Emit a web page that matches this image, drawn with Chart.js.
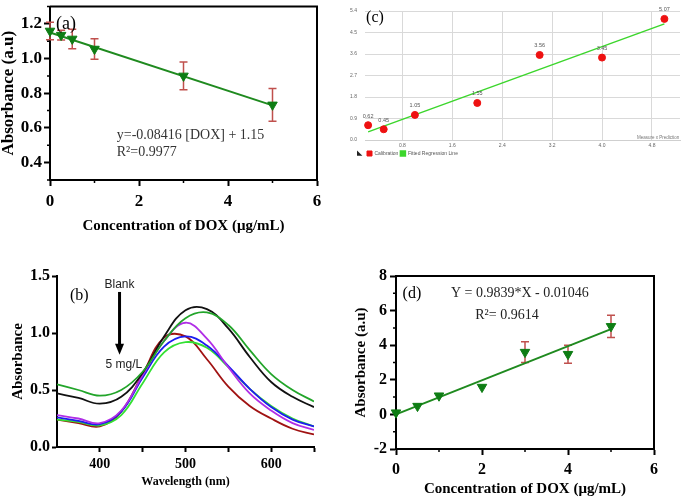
<!DOCTYPE html>
<html>
<head>
<meta charset="utf-8">
<script src="https://cdn.jsdelivr.net/npm/chart.js@4.4.1/dist/chart.umd.min.js"></script>
<style>
  html, body { margin: 0; padding: 0; background: #fff; }
  #fig { position: relative; width: 685px; height: 501px; overflow: hidden; }
  canvas { position: absolute; }
</style>
</head>
<body>
<div id="fig">
  <canvas id="chartA" style="left:0;top:0" width="340" height="245"></canvas>
  <canvas id="chartC" style="left:340px;top:0" width="345" height="166"></canvas>
  <canvas id="chartB" style="left:0;top:250px" width="340" height="251"></canvas>
  <canvas id="chartD" style="left:340px;top:250px" width="345" height="251"></canvas>
</div>
<script>
// (a) absorbance vs DOX concentration
const aConc = [0, 0.25, 0.5, 1, 3, 5];
const aAbs  = [1.159, 1.135, 1.113, 1.055, 0.90, 0.733];
const aErr  = [0.05, 0.028, 0.056, 0.059, 0.08, 0.094];
const aFitX = [0, 5];
const aFitY = [1.15, 0.73];
const aTicksX = [0, 2, 4, 6];
const aMinorX = [1, 3, 5];
const aTicksY = [0.4, 0.6, 0.8, 1.0, 1.2];
const aMinorY = [0.3, 0.5, 0.7, 0.9, 1.1, 1.3];

// (b) UV-vis spectra
const wavelengths = [350, 375, 400, 425, 450, 475, 500, 525, 550, 575, 600, 625, 650];
const specDarkGreen  = [0.55, 0.50, 0.45, 0.50, 0.66, 0.93, 1.13, 1.18, 1.07, 0.85, 0.64, 0.50, 0.40];
const specBlack      = [0.47, 0.43, 0.38, 0.44, 0.65, 0.97, 1.20, 1.21, 1.04, 0.79, 0.57, 0.44, 0.35];
const specPurple     = [0.28, 0.25, 0.21, 0.32, 0.63, 0.93, 1.09, 0.95, 0.70, 0.47, 0.32, 0.21, 0.15];
const specBlue       = [0.26, 0.23, 0.20, 0.31, 0.61, 0.88, 0.97, 0.89, 0.71, 0.51, 0.35, 0.24, 0.18];
const specLightGreen = [0.24, 0.22, 0.19, 0.28, 0.56, 0.83, 0.92, 0.87, 0.70, 0.51, 0.36, 0.25, 0.18];
const specDarkRed    = [0.24, 0.21, 0.18, 0.31, 0.64, 0.96, 0.97, 0.77, 0.53, 0.36, 0.25, 0.16, 0.11];
const bTicksX = [400, 450, 500, 550, 600, 650];
const bLabeledX = [400, 500, 600];
const bTicksY = [0, 0.5, 1.0, 1.5];

// (c) calibration vs fitted regression
const cConc = [0.25, 0.5, 1, 2, 3, 4, 5];
const cAbs  = [0.62, 0.45, 1.05, 1.55, 3.56, 3.45, 5.07];
const cFitX = [0.25, 5];
const cFitY = [0.34, 4.86];
const cTicksX = [0.8, 1.6, 2.4, 3.2, 4.0, 4.8];
const cTicksY = [0, 0.9, 1.8, 2.7, 3.6, 4.5, 5.4];

// (d) linear fit
const dConc = [0, 0.5, 1, 2, 3, 4, 5];
const dAbs  = [0.1, 0.48, 1.08, 1.58, 3.6, 3.48, 5.09];
const dErr  = [0, 0, 0, 0, 0.6, 0.52, 0.64];
const dFitX = [0, 5];
const dFitY = [0.0, 4.93];
const dTicksX = [0, 2, 4, 6];
const dMinorX = [1, 3, 5];
const dTicksY = [-2, 0, 2, 4, 6, 8];
const dMinorY = [-1, 1, 3, 5, 7];

const SERIF = '"Liberation Serif", "Times New Roman", serif';
const SANS = '"Liberation Sans", Arial, sans-serif';
Chart.defaults.font.family = SERIF;
Chart.defaults.color = '#000';
Chart.defaults.animation = false;

const pts = (xs, ys) => xs.map((x, i) => ({ x, y: ys[i] }));

const boxFrame = {
  id: 'boxFrame',
  afterDraw(chart, args, o) {
    if (!o.show) return;
    const { ctx, chartArea: a } = chart;
    ctx.save();
    ctx.strokeStyle = '#000';
    ctx.lineWidth = 2;
    ctx.beginPath();
    ctx.moveTo(a.left, a.top);
    ctx.lineTo(a.right, a.top);
    ctx.lineTo(a.right, a.bottom);
    ctx.stroke();
    ctx.restore();
  }
};

const minorTicks = {
  id: 'minorTicks',
  afterDraw(chart, args, o) {
    if (!o.x && !o.y) return;
    const { ctx, chartArea: a, scales } = chart;
    const len = o.len || 3;
    ctx.save();
    ctx.strokeStyle = '#000';
    ctx.lineWidth = 1.5;
    ctx.beginPath();
    (o.x || []).forEach(v => {
      const px = scales.x.getPixelForValue(v);
      ctx.moveTo(px, a.bottom); ctx.lineTo(px, a.bottom + len);
    });
    (o.y || []).forEach(v => {
      const py = scales.y.getPixelForValue(v);
      ctx.moveTo(a.left, py); ctx.lineTo(a.left - len, py);
    });
    ctx.stroke();
    ctx.restore();
  }
};

const errorBars = {
  id: 'errorBars',
  beforeDatasetsDraw(chart, args, o) {
    if (!o.err) return;
    const { ctx, scales: { y } } = chart;
    const vals = chart.data.datasets[0].data;
    ctx.save();
    ctx.strokeStyle = o.color;
    ctx.lineWidth = 1.5;
    chart.getDatasetMeta(0).data.forEach((pt, i) => {
      const e = o.err[i];
      if (!e) return;
      const top = y.getPixelForValue(vals[i].y + e);
      const bot = y.getPixelForValue(vals[i].y - e);
      ctx.beginPath();
      ctx.moveTo(pt.x, top); ctx.lineTo(pt.x, bot);
      ctx.moveTo(pt.x - o.cap, top); ctx.lineTo(pt.x + o.cap, top);
      ctx.moveTo(pt.x - o.cap, bot); ctx.lineTo(pt.x + o.cap, bot);
      ctx.stroke();
    });
    ctx.restore();
  }
};

const notes = {
  id: 'notes',
  afterDraw(chart, args, o) {
    if (!o.items) return;
    const { ctx, scales: { x, y } } = chart;
    ctx.save();
    o.items.forEach(n => {
      const px = x.getPixelForValue(n.x), py = y.getPixelForValue(n.y);
      if (n.arrowTo !== undefined) {
        const py2 = y.getPixelForValue(n.arrowTo);
        ctx.strokeStyle = '#000';
        ctx.fillStyle = '#000';
        ctx.lineWidth = 3;
        ctx.beginPath();
        ctx.moveTo(px, py); ctx.lineTo(px, py2 - 10);
        ctx.stroke();
        ctx.beginPath();
        ctx.moveTo(px - 4.5, py2 - 11); ctx.lineTo(px + 4.5, py2 - 11); ctx.lineTo(px, py2);
        ctx.closePath();
        ctx.fill();
        return;
      }
      ctx.font = n.font;
      ctx.fillStyle = n.color || '#000';
      ctx.textAlign = n.align || 'left';
      ctx.textBaseline = 'middle';
      ctx.fillText(n.text, px, py);
    });
    ctx.restore();
  }
};

const valueLabels = {
  id: 'valueLabels',
  afterDatasetsDraw(chart, args, o) {
    if (!o.show) return;
    const { ctx } = chart;
    const vals = chart.data.datasets[0].data;
    ctx.save();
    ctx.font = '5.5px ' + SANS;
    ctx.fillStyle = '#555';
    ctx.textAlign = 'center';
    ctx.textBaseline = 'middle';
    chart.getDatasetMeta(0).data.forEach((pt, i) => {
      ctx.fillText(vals[i].y.toFixed(2), pt.x, pt.y - 9);
    });
    ctx.restore();
  }
};

Chart.register(boxFrame, minorTicks, errorBars, notes, valueLabels);

function axisX(o) {
  return {
    type: 'linear', min: o.min, max: o.max,
    afterFit: s => { s.height = o.h; },
    afterBuildTicks: s => { s.ticks = o.ticks.map(v => ({ value: v })); },
    ticks: { font: { size: o.size, weight: 'bold' }, padding: o.pad, maxRotation: 0, autoSkip: false,
             callback: o.fmt || (v => String(v)) },
    grid: { drawOnChartArea: false, tickLength: o.tl || 6, tickWidth: 2, tickColor: '#000' },
    border: { display: true, color: '#000', width: 2 },
    title: { display: true, text: o.title, font: { size: o.tsize, weight: 'bold', lineHeight: 1 },
             padding: { top: 0, bottom: o.tpad } }
  };
}

function axisY(o) {
  return {
    type: 'linear', min: o.min, max: o.max,
    afterFit: s => { s.width = o.w; s.paddingTop = 0; s.paddingBottom = 0; },
    afterBuildTicks: s => { s.ticks = o.ticks.map(v => ({ value: v })); },
    ticks: { font: { size: o.size, weight: 'bold' }, padding: o.pad, autoSkip: false,
             callback: o.fmt || (v => String(v)) },
    grid: { drawOnChartArea: false, tickLength: o.tl || 6, tickWidth: 2, tickColor: '#000' },
    border: { display: true, color: '#000', width: 2 },
    title: { display: true, text: o.title, font: { size: o.tsize, weight: 'bold', lineHeight: 1 },
             padding: { top: o.tpad, bottom: 0 } }
  };
}

// panel (a)
new Chart(document.getElementById('chartA'), {
  type: 'scatter',
  data: {
    datasets: [
      { data: pts(aConc, aAbs), pointStyle: 'triangle', pointRotation: 180, pointRadius: 5.5,
        backgroundColor: '#0e7d14', borderColor: '#0e7d14', clip: false },
      { data: pts(aFitX, aFitY), showLine: true, pointRadius: 0, borderColor: '#1f8a1f', borderWidth: 2, clip: false }
    ]
  },
  options: {
    responsive: false, events: [],
    layout: { padding: { top: 2, right: 23, left: 0, bottom: 0 } },
    plugins: {
      legend: { display: false }, tooltip: { enabled: false },
      boxFrame: { show: true },
      minorTicks: { x: aMinorX, y: aMinorY, len: 3 },
      errorBars: { err: aErr, color: '#c0504d', cap: 4 },
      notes: { items: [
        { text: '(a)', x: 0.36, y: 1.2, font: '18px ' + SERIF, align: 'center' },
        { text: 'y=-0.08416 [DOX] + 1.15', x: 1.5, y: 0.556, font: '14px ' + SERIF, color: '#333' },
        { text: 'R\u00b2=0.9977', x: 1.5, y: 0.457, font: '14px ' + SERIF, color: '#333' }
      ] }
    },
    scales: {
      x: axisX({ min: 0, max: 6, h: 65, ticks: aTicksX, size: 17, pad: 5,
                 title: 'Concentration of DOX (\u03bcg/mL)', tsize: 15, tpad: 11 }),
      y: axisY({ min: 0.3, max: 1.3, w: 50, ticks: aTicksY, size: 17, pad: 2, fmt: v => v.toFixed(1),
                 title: 'Absorbance (a.u)', tsize: 17, tpad: 0 })
    }
  }
});

// panel (b)
const specSeries = [
  [specDarkGreen, '#22a52a'], [specBlack, '#111111'], [specPurple, '#b02ee6'],
  [specBlue, '#1c1cf0'], [specLightGreen, '#33e033'], [specDarkRed, '#a01212']
];
new Chart(document.getElementById('chartB'), {
  type: 'scatter',
  data: {
    datasets: specSeries.map(([ys, c]) => ({
      data: pts(wavelengths, ys), showLine: true, pointRadius: 0, borderColor: c, borderWidth: 1.8, tension: 0.4
    }))
  },
  options: {
    responsive: false, events: [],
    layout: { padding: { top: 26, right: 26, left: 0, bottom: 0 } },
    plugins: {
      legend: { display: false }, tooltip: { enabled: false },
      notes: { items: [
        { text: '(b)', x: 376, y: 1.33, font: '16px ' + SERIF, align: 'center' },
        { text: 'Blank', x: 423, y: 1.42, font: '12px ' + SANS, align: 'center', color: '#222' },
        { x: 423, y: 1.36, arrowTo: 0.81 },
        { text: '5 mg/L', x: 428, y: 0.72, font: '12px ' + SANS, align: 'center', color: '#222' }
      ] }
    },
    scales: {
      x: axisX({ min: 350, max: 650, h: 54, ticks: bTicksX, size: 14, pad: 4, tl: 5,
                 fmt: v => bLabeledX.includes(v) ? String(v) : '',
                 title: 'Wavelength (nm)', tsize: 12, tpad: 13 }),
      y: axisY({ min: 0, max: 1.5, w: 57, ticks: bTicksY, size: 16, pad: 2, tl: 5, fmt: v => v.toFixed(1),
                 title: 'Absorbance', tsize: 15, tpad: 11 })
    }
  }
});

// panel (c)
new Chart(document.getElementById('chartC'), {
  type: 'scatter',
  data: {
    datasets: [
      { label: 'Calibration', data: pts(cConc, cAbs), pointRadius: 3.5,
        backgroundColor: '#ee1111', borderColor: '#ee1111', clip: false },
      { label: 'Fitted Regression Line', data: pts(cFitX, cFitY), showLine: true, pointRadius: 0,
        backgroundColor: '#3cd62c', borderColor: '#3cd62c', borderWidth: 1.5 }
    ]
  },
  options: {
    responsive: false, events: [],
    layout: { padding: { top: 10, right: 3, left: 0, bottom: 0 } },
    plugins: {
      tooltip: { enabled: false },
      legend: { position: 'bottom', align: 'start', fullSize: false,
                labels: { boxWidth: 5, boxHeight: 5, padding: 2, color: '#555', font: { size: 5, family: SANS } } },
      valueLabels: { show: true },
      notes: { items: [
        { text: '(c)', x: 0.36, y: 5.12, font: '16px ' + SERIF, align: 'center' },
        { text: 'Measure x Prediction', x: 5.24, y: 0.1, font: '4.5px ' + SANS, align: 'right', color: '#777' },
        { text: '\u25e3', x: 0.07, y: -0.55, font: '7px "DejaVu Sans"', align: 'left', color: '#222' }
      ] }
    },
    scales: {
      x: { type: 'linear', min: 0.2, max: 5.25,
           afterFit: s => { s.height = 9; },
           afterBuildTicks: s => { s.ticks = cTicksX.map(v => ({ value: v })); },
           ticks: { font: { size: 5, family: SANS }, color: '#666', padding: 3, maxRotation: 0, autoSkip: false,
                    callback: v => v.toFixed(1) },
           grid: { color: '#d9d9d9', drawTicks: false },
           border: { display: true, color: '#cfcfcf' } },
      y: { type: 'linear', min: 0, max: 5.4,
           afterFit: s => { s.width = 25; },
           afterBuildTicks: s => { s.ticks = cTicksY.map(v => ({ value: v })); },
           ticks: { font: { size: 5, family: SANS }, color: '#666', padding: 8, autoSkip: false,
                    callback: v => v.toFixed(1) },
           grid: { color: '#d9d9d9', drawTicks: false },
           border: { display: false } }
    }
  }
});

// panel (d)
new Chart(document.getElementById('chartD'), {
  type: 'scatter',
  data: {
    datasets: [
      { data: pts(dConc, dAbs), pointStyle: 'triangle', pointRotation: 180, pointRadius: 5.5,
        backgroundColor: '#0e7d14', borderColor: '#0e7d14', clip: false },
      { data: pts(dFitX, dFitY), showLine: true, pointRadius: 0, borderColor: '#1f8a1f', borderWidth: 2, clip: false }
    ]
  },
  options: {
    responsive: false, events: [],
    layout: { padding: { top: 26, right: 31, left: 0, bottom: 0 } },
    plugins: {
      legend: { display: false }, tooltip: { enabled: false },
      boxFrame: { show: true },
      minorTicks: { x: dMinorX, y: dMinorY, len: 3 },
      errorBars: { err: dErr, color: '#c0504d', cap: 4 },
      notes: { items: [
        { text: '(d)', x: 0.37, y: 7.0, font: '16px ' + SERIF, align: 'center' },
        { text: 'Y = 0.9839*X - 0.01046', x: 2.88, y: 7.0, font: '14px ' + SERIF, align: 'center', color: '#222' },
        { text: 'R\u00b2= 0.9614', x: 2.58, y: 5.7, font: '14px ' + SERIF, align: 'center', color: '#222' }
      ] }
    },
    scales: {
      x: axisX({ min: 0, max: 6, h: 52, ticks: dTicksX, size: 16, pad: 5,
                 title: 'Concentration of DOX (\u03bcg/mL)', tsize: 15, tpad: 4 }),
      y: axisY({ min: -2, max: 8, w: 56, ticks: dTicksY, size: 16, pad: 3,
                 title: 'Absorbance (a.u)', tsize: 15, tpad: 14 })
    }
  }
});
</script>
</body>
</html>
